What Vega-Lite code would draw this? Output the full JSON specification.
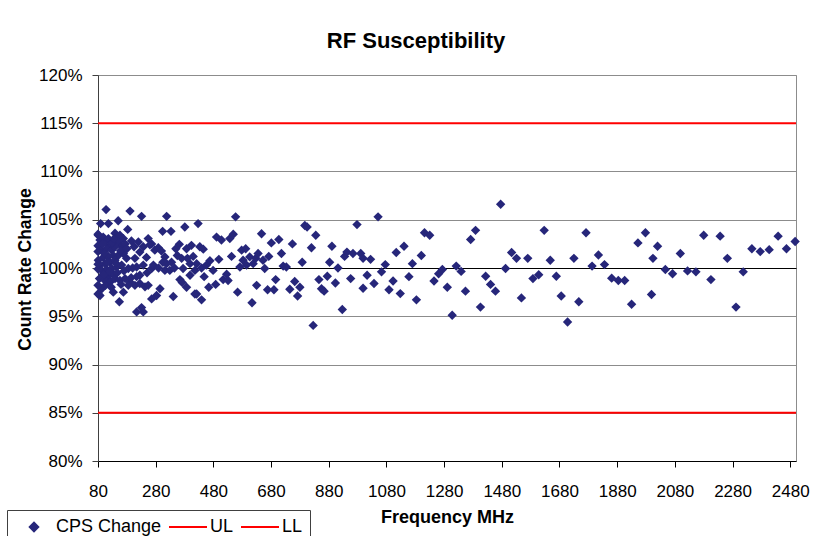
{
  "$schema": "https://vega.github.io/schema/vega-lite/v6.json",
  "width": 698,
  "height": 386,
  "autosize": {"type": "none"},
  "padding": {"left": 98, "top": 75, "right": 19, "bottom": 75},
  "background": "white",
  "config": {"font": "Liberation Sans", "view": {"stroke": "#8c8c8c", "strokeWidth": 1}},
  "title": {"text": "RF Susceptibility", "fontSize": 22, "fontWeight": "bold", "font": "Liberation Sans", "color": "black", "anchor": "middle", "dx": -31, "dy": 21, "offset": 17, "baseline": "alphabetic"},
  "layer": [
    {
      "data": {"values": [
        {"f":108,"v":1.0605},{"f":191,"v":1.059},{"f":231,"v":1.0535},{"f":318,"v":1.0535},{"f":89,"v":1.046},{"f":116,"v":1.046},{"f":150,"v":1.049},{"f":183,"v":1.040},{"f":304,"v":1.038},{"f":333,"v":1.038},{"f":381,"v":1.0425},
        {"f":81,"v":1.034},{"f":87,"v":1.029},{"f":80,"v":1.023},{"f":98,"v":1.032},{"f":104,"v":1.027},{"f":116,"v":1.0305},{"f":122,"v":1.0235},{"f":93,"v":1.0185},{"f":110,"v":1.02},{"f":127,"v":1.0185},{"f":139,"v":1.036},{"f":145,"v":1.032},{"f":156,"v":1.034},{"f":168,"v":1.0305},{"f":150,"v":1.027},{"f":162,"v":1.0225},{"f":174,"v":1.025},{"f":139,"v":1.022},{"f":133,"v":1.013},{"f":150,"v":1.013},{"f":168,"v":1.015},{"f":179,"v":1.01},{"f":98,"v":1.011},{"f":116,"v":1.012},{"f":81,"v":1.008},{"f":87,"v":1.003},{"f":104,"v":1.0045},{"f":122,"v":1.006},{"f":139,"v":1.008},{"f":80,"v":0.999},{"f":93,"v":0.9975},{"f":110,"v":0.9985},{"f":127,"v":0.9995},{"f":145,"v":1.001},{"f":162,"v":1.003},{"f":185,"v":0.9995},{"f":98,"v":0.9935},{"f":116,"v":0.9915},{"f":133,"v":0.994},{"f":85,"v":0.989},{"f":104,"v":0.987},{"f":122,"v":0.9855},{"f":139,"v":0.989},{"f":156,"v":0.987},{"f":174,"v":0.989},{"f":191,"v":0.9855},{"f":214,"v":0.991},{"f":225,"v":0.9925},{"f":208,"v":0.982},{"f":225,"v":0.984},{"f":243,"v":0.9805},{"f":254,"v":0.982},{"f":93,"v":0.9785},{"f":87,"v":0.9715},{"f":133,"v":0.975},{"f":168,"v":0.975},{"f":154,"v":0.965},{"f":185,"v":0.982},{"f":295,"v":0.9785},{"f":283,"v":0.9715},{"f":266,"v":0.968},{"f":214,"v":0.9545},{"f":231,"v":0.959},{"f":237,"v":0.9545},{"f":341,"v":0.9705},{"f":364,"v":0.988},{"f":387,"v":0.98},{"f":399,"v":0.9925},{"f":416,"v":0.973},
        {"f":225,"v":1.0165},{"f":237,"v":1.022},{"f":254,"v":1.0305},{"f":266,"v":1.025},{"f":248,"v":1.011},{"f":208,"v":1.01},{"f":214,"v":1.001},{"f":237,"v":1.003},{"f":266,"v":0.9995},{"f":277,"v":1.0185},{"f":289,"v":1.021},{"f":300,"v":1.0175},{"f":312,"v":1.0115},{"f":318,"v":1.0045},{"f":335,"v":1.006},{"f":312,"v":0.9975},{"f":329,"v":0.9975},{"f":355,"v":1.013},{"f":362,"v":1.0245},{"f":370,"v":1.01},{"f":387,"v":1.02},{"f":404,"v":1.0235},{"f":399,"v":1.0045},{"f":375,"v":0.9995},{"f":416,"v":0.9975},
        {"f":80,"v":1.035},{"f":80,"v":1.017},{"f":80,"v":1.004},{"f":80,"v":0.982},{"f":80,"v":0.973},
        {"f":96,"v":1.025},{"f":102,"v":1.015},{"f":113,"v":1.006},{"f":128,"v":1.026},{"f":135,"v":1.03},{"f":142,"v":1.005},{"f":158,"v":1.018},{"f":147,"v":0.995},{"f":119,"v":0.996},{"f":100,"v":0.993},{"f":106,"v":0.982},{"f":126,"v":0.98},{"f":160,"v":0.983},{"f":170,"v":0.997},{"f":180,"v":1.02},{"f":196,"v":1.028},{"f":200,"v":1.0},{"f":205,"v":1.022},{"f":220,"v":1.027},{"f":195,"v":0.99},{"f":250,"v":0.995},{"f":260,"v":1.024},{"f":272,"v":1.003},{"f":290,"v":1.0},{"f":305,"v":1.006},{"f":345,"v":1.0},{"f":350,"v":1.02},{"f":372,"v":0.985},{"f":390,"v":1.01},{"f":410,"v":1.012},
        {"f":427,"v":1.046},{"f":433,"v":1.022},{"f":445,"v":1.0195},{"f":422,"v":1.0045},{"f":439,"v":1.0},{"f":456,"v":1.003},{"f":468,"v":1.0075},{"f":448,"v":0.991},{"f":422,"v":0.973},{"f":439,"v":0.967},{"f":464,"v":0.98},{"f":479,"v":0.9975},{"f":488,"v":0.983},{"f":491,"v":1.032},{"f":508,"v":1.029},{"f":499,"v":1.009},{"f":514,"v":0.988},{"f":526,"v":0.9935},{"f":531,"v":0.987},{"f":537,"v":1.0305},{"f":549,"v":1.035},{"f":543,"v":1.012},{"f":557,"v":1.053},{"f":564,"v":0.975},{"f":572,"v":1.001},{"f":578,"v":1.0185},{"f":592,"v":1.02},{"f":583,"v":1.008},{"f":595,"v":1.003},{"f":606,"v":1.0115},{"f":614,"v":0.964},{"f":618,"v":1.0045},{"f":630,"v":0.982},{"f":627,"v":1.01},{"f":635,"v":1.015},{"f":647,"v":1.0355},{"f":652,"v":1.008},{"f":658,"v":0.9995},{"f":668,"v":0.9775},{"f":672,"v":1.012},{"f":681,"v":1.026},{"f":690,"v":0.9775},{"f":696,"v":0.988},{"f":707,"v":1.0295},{"f":716,"v":1.015},{"f":722,"v":1.002},{"f":733,"v":1.001},{"f":745,"v":0.978},{"f":754,"v":1.025},{"f":762,"v":0.986},{"f":772,"v":0.971},{"f":780,"v":0.98},{"f":788,"v":1.006},{"f":797,"v":1.044},{"f":805,"v":1.0425},{"f":820,"v":1.021},{"f":835,"v":1.034},{"f":846,"v":0.988},{"f":855,"v":0.9785},{"f":864,"v":0.976},{"f":875,"v":0.9915},{"f":883,"v":1.006},{"f":891,"v":1.0225},{"f":903,"v":0.9845},{"f":912,"v":1.0},{"f":826,"v":0.9405},
        {"f":927,"v":0.957},{"f":935,"v":1.012},{"f":943,"v":1.0165},{"f":964,"v":1.015},{"f":978,"v":1.045},{"f":991,"v":1.015},{"f":999,"v":1.01},{"f":956,"v":0.989},{"f":999,"v":0.979},{"f":1013,"v":0.9925},{"f":1025,"v":1.009},{"f":1037,"v":0.984},{"f":1051,"v":1.053},{"f":1063,"v":0.996},{"f":1076,"v":1.0035},{"f":1089,"v":0.9775},{"f":1103,"v":0.9865},{"f":1114,"v":1.016},{"f":1128,"v":0.9735},{"f":1141,"v":1.0225},{"f":1158,"v":0.991},{"f":1170,"v":1.0045},{"f":1184,"v":0.967},{"f":1201,"v":1.013},{"f":1212,"v":1.0365},{"f":1230,"v":1.034},{"f":1245,"v":0.9865},{"f":1261,"v":0.994},{"f":1274,"v":0.9985},{"f":1291,"v":0.98},{"f":1308,"v":0.951},{"f":1322,"v":1.002},{"f":1339,"v":0.9965},{"f":1354,"v":0.976},{"f":1372,"v":1.0295},{"f":1389,"v":1.039},{"f":1406,"v":0.9595},{"f":1424,"v":0.9915},{"f":1441,"v":0.983},{"f":1458,"v":0.976},{"f":1476,"v":1.066},{"f":1493,"v":0.9995},{"f":1514,"v":1.016},{"f":1531,"v":1.01},{"f":1548,"v":0.969},{"f":1570,"v":1.01},{"f":1588,"v":0.989},{"f":1608,"v":0.993},{"f":1627,"v":1.039},{"f":1648,"v":1.008},{"f":1669,"v":0.9915},{"f":1686,"v":0.971},{"f":1708,"v":0.944},{"f":1730,"v":1.01},{"f":1747,"v":0.965},
        {"f":1772,"v":1.0365},{"f":1793,"v":1.002},{"f":1815,"v":1.0135},{"f":1836,"v":1.0035},{"f":1861,"v":0.9895},{"f":1884,"v":0.987},{"f":1906,"v":0.987},{"f":1930,"v":0.9625},{"f":1952,"v":1.026},{"f":1978,"v":1.0365},{"f":1999,"v":0.9725},{"f":2004,"v":1.01},{"f":2020,"v":1.0225},{"f":2047,"v":0.9985},{"f":2072,"v":0.994},{"f":2099,"v":1.015},{"f":2124,"v":0.997},{"f":2153,"v":0.996},{"f":2180,"v":1.034},{"f":2205,"v":0.988},{"f":2237,"v":1.033},{"f":2262,"v":1.01},{"f":2292,"v":0.9595},{"f":2317,"v":0.996},{"f":2347,"v":1.02},{"f":2376,"v":1.017},{"f":2407,"v":1.019},{"f":2438,"v":1.033},{"f":2467,"v":1.02},{"f":2497,"v":1.0275}
      ]},
      "mark": {"type": "point", "shape": "diamond", "filled": true, "size": 88, "opacity": 1, "color": "#26267a"},
      "encoding": {
        "x": {
          "field": "f", "type": "quantitative",
          "scale": {"domain": [80, 2500], "nice": false, "zero": false},
          "title": "Frequency MHz",
          "axis": {
            "values": [80, 280, 480, 680, 880, 1080, 1280, 1480, 1680, 1880, 2080, 2280, 2480],
            "grid": false, "format": "d",
            "labelFontSize": 17, "labelColor": "black", "labelFont": "Liberation Sans",
            "tickSize": 6, "tickColor": "black", "domainColor": "black",
            "labelPadding": 16, "labelFlush": false, "labelOverlap": false,
            "titleFontSize": 18, "titleFontWeight": "bold", "titleColor": "black",
            "titleBaseline": "alphabetic", "titleY": 61
          }
        },
        "y": {
          "field": "v", "type": "quantitative",
          "scale": {"domain": [0.8, 1.2], "nice": false, "zero": false},
          "title": "Count Rate Change",
          "axis": {
            "values": [0.8, 0.85, 0.9, 0.95, 1, 1.05, 1.1, 1.15, 1.2],
            "format": ".0%",
            "grid": true,
            "gridColor": {"condition": {"test": "datum.value === 1", "value": "black"}, "value": "#8c8c8c"},
            "labelFontSize": 17, "labelColor": "black", "labelFont": "Liberation Sans",
            "tickSize": 6, "tickColor": "#404040", "domainColor": "#404040",
            "labelPadding": 10, "labelFlush": false, "labelOverlap": false,
            "titleFontSize": 17.5, "titleFontWeight": "bold", "titleColor": "black",
            "titleAngle": -90, "titleBaseline": "alphabetic", "titleX": -68, "titleY": 194
          }
        },
        "color": {
          "datum": "CPS Change", "type": "nominal", "title": null,
          "scale": {"domain": ["CPS Change", "UL", "LL"], "range": ["#26267a", "#ff0000", "#ff0000"]},
          "legend": {
            "orient": "none", "legendX": -91, "legendY": 435, "direction": "horizontal", "columns": 3,
            "title": null, "labelFontSize": 18, "labelFont": "Liberation Sans", "labelColor": "black",
            "symbolSize": 1444, "symbolStrokeWidth": 2, "labelOffset": 2, "columnPadding": 6, "padding": 7,
            "clipHeight": 20, "strokeColor": "#404040", "fillColor": "white",
            "encode": {
              "symbols": {
                "update": {
                  "shape": {"signal": "datum.value === 'CPS Change' ? 'diamond' : 'stroke'"},
                  "size": {"signal": "datum.value === 'CPS Change' ? 72 : 1444"},
                  "fill": {"signal": "datum.value === 'CPS Change' ? '#26267a' : 'transparent'"},
                  "stroke": {"signal": "datum.value === 'CPS Change' ? 'transparent' : '#ff0000'"},
                  "strokeWidth": {"value": 2},
                  "opacity": {"value": 1}
                }
              }
            }
          }
        }
      }
    },
    {
      "data": {"values": [{"series": "UL", "v": 1.15}, {"series": "LL", "v": 0.85}]},
      "mark": {"type": "rule", "strokeWidth": 2},
      "encoding": {
        "y": {"field": "v", "type": "quantitative"},
        "color": {
          "field": "series", "type": "nominal", "title": null,
          "legend": {
            "orient": "none", "legendX": -91, "legendY": 435, "direction": "horizontal", "columns": 3,
            "title": null, "labelFontSize": 18, "labelFont": "Liberation Sans", "labelColor": "black",
            "symbolSize": 1444, "symbolStrokeWidth": 2, "labelOffset": 2, "columnPadding": 6, "padding": 7,
            "clipHeight": 20, "strokeColor": "#404040", "fillColor": "white",
            "encode": {
              "symbols": {
                "update": {
                  "shape": {"signal": "datum.value === 'CPS Change' ? 'diamond' : 'stroke'"},
                  "size": {"signal": "datum.value === 'CPS Change' ? 72 : 1444"},
                  "fill": {"signal": "datum.value === 'CPS Change' ? '#26267a' : 'transparent'"},
                  "stroke": {"signal": "datum.value === 'CPS Change' ? 'transparent' : '#ff0000'"},
                  "strokeWidth": {"value": 2},
                  "opacity": {"value": 1}
                }
              }
            }
          }
        }
      }
    }
  ]
}
